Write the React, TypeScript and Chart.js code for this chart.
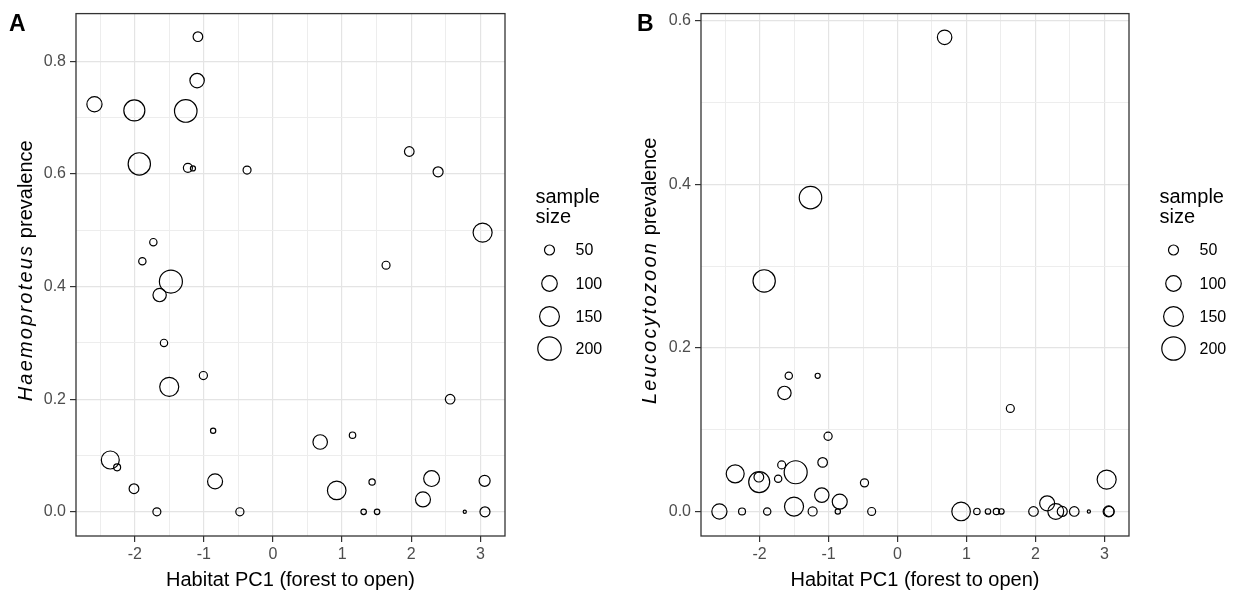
import React, { useEffect, useRef } from 'react';
import { Chart, registerables } from 'chart.js';
Chart.register(...registerables);

const FONT = '"Liberation Sans", Arial, Helvetica, sans-serif';

// Habitat PC1 score of each site
const siteX = [
  -1.086, -1.098, -2.583, -2.006, -1.262, -1.934, -1.231, -1.158, -0.375, 1.972,
  2.389, 3.033, -1.731, -1.890, 1.636, -1.477, -1.640, -1.577, -1.007, -1.501,
  2.563, -0.866, 1.151, 0.683, -2.354, -2.255, -2.011, -0.838, 0.922, 1.434,
  2.295, 2.170, 3.062, -1.680, -0.479, 1.312, 1.506, 2.775, 3.067,
];
// sample size of each site
const sampleSize = [
  47, 88, 96, 166, 187, 184, 43, 20, 36, 47,
  50, 140, 32, 32, 36, 194, 78, 32, 37, 140,
  47, 21, 27, 89, 127, 30, 48, 94, 134, 26,
  103, 94, 58, 36, 37, 22, 22, 12, 50,
];
// Haemoproteus prevalence (panel A)
const haemoproteusPrev = [
  0.844, 0.766, 0.724, 0.713, 0.712, 0.618, 0.611, 0.610, 0.607, 0.640,
  0.604, 0.496, 0.479, 0.445, 0.438, 0.409, 0.385, 0.300, 0.242, 0.222,
  0.200, 0.144, 0.136, 0.124, 0.092, 0.079, 0.041, 0.054, 0.038, 0.053,
  0.059, 0.022, 0.055, 0.0, 0.0, 0.0, 0.0, 0.0, 0.0,
];
// Leucocytozoon prevalence (panel B)
const leucocytozoonPrev = [
  0.060, 0.020, 0.0, 0.036, 0.384, 0.282, 0.0, 0.166, 0.0, 0.0,
  0.0, 0.039, 0.040, 0.0, 0.126, 0.048, 0.145, 0.166, 0.092, 0.006,
  0.0, 0.0, 0.0, 0.580, 0.046, 0.0, 0.042, 0.012, 0.0, 0.0,
  0.0, 0.010, 0.0, 0.057, 0.035, 0.0, 0.0, 0.0, 0.0,
];

const xTicks = [-2, -1, 0, 1, 2, 3];
const xMinorTicks = [-2.5, -1.5, -0.5, 0.5, 1.5, 2.5];
const yTicksA = [0, 0.2, 0.4, 0.6, 0.8];
const yMinorA = [0.1, 0.3, 0.5, 0.7];
const yTicksB = [0, 0.2, 0.4, 0.6];
const yMinorB = [0.1, 0.3, 0.5];
const legendSizes = [50, 100, 150, 200];
const legendLabels = ['50', '100', '150', '200'];
const legendKeyY = [250, 283.5, 316.5, 348.5];

const radius = (n: number) => Math.max(1.5, 0.948 * Math.sqrt(n) - 1.7);

const isIn = (v: number, arr: number[]) => arr.some((m) => Math.abs(m - v) < 1e-9);

const decorPlugin = {
  id: 'panelDecor',
  afterDraw(chart: any, _args: any, opts: any) {
    const { ctx, chartArea: a } = chart;
    ctx.save();
    // panel border
    ctx.strokeStyle = '#333333';
    ctx.lineWidth = 1.3;
    ctx.strokeRect(a.left, a.top, a.right - a.left, a.bottom - a.top);

    // panel tag
    ctx.fillStyle = '#000000';
    ctx.font = `bold 23px ${FONT}`;
    ctx.textAlign = 'left';
    ctx.textBaseline = 'alphabetic';
    ctx.fillText(opts.letter, opts.letterX, 31);

    // y axis title with italic genus name
    ctx.save();
    ctx.translate(31.5, (a.top + a.bottom) / 2 - 4);
    ctx.rotate(-Math.PI / 2);
    const itFont = `italic 20px ${FONT}`;
    const nFont = `20px ${FONT}`;
    ctx.font = itFont;
    (ctx as any).letterSpacing = '2.2px';
    const w1 = ctx.measureText(opts.yItalic).width;
    (ctx as any).letterSpacing = '0px';
    ctx.font = nFont;
    const w2 = ctx.measureText(opts.yRest).width;
    const x0 = -(w1 + w2) / 2;
    ctx.textBaseline = 'alphabetic';
    ctx.textAlign = 'left';
    ctx.fillStyle = '#000000';
    ctx.font = itFont;
    (ctx as any).letterSpacing = '2.2px';
    ctx.fillText(opts.yItalic, x0, 0);
    (ctx as any).letterSpacing = '0px';
    ctx.font = nFont;
    ctx.fillText(opts.yRest, x0 + w1, 0);
    ctx.restore();

    // size legend
    ctx.fillStyle = '#000000';
    ctx.font = `20px ${FONT}`;
    ctx.textAlign = 'left';
    ctx.textBaseline = 'alphabetic';
    ctx.fillText('sample', 535.5, 203);
    ctx.fillText('size', 535.5, 223);
    ctx.strokeStyle = '#000000';
    ctx.lineWidth = 1.2;
    ctx.font = `16px ${FONT}`;
    ctx.textBaseline = 'middle';
    legendSizes.forEach((s, i) => {
      ctx.beginPath();
      ctx.arc(549.5, legendKeyY[i], radius(s), 0, Math.PI * 2);
      ctx.stroke();
      ctx.fillText(legendLabels[i], 575.5, legendKeyY[i] + 1);
    });
    ctx.restore();
  },
};

function makeConfig(
  yValues: number[],
  yMin: number,
  yMax: number,
  yMajor: number[],
  yMinor: number[],
  leftWidth: number,
  rightPad: number,
  letter: string,
  letterX: number,
  yItalic: string,
  yRest: string,
) {
  const points = siteX.map((x, i) => ({ x, y: yValues[i], r: radius(sampleSize[i]) }));
  return {
    type: 'bubble',
    data: {
      datasets: [
        {
          data: points,
          borderColor: '#000000',
          backgroundColor: 'rgba(0,0,0,0)',
          borderWidth: 1.2,
          hoverBorderWidth: 1.2,
        },
      ],
    },
    options: {
      responsive: false,
      animation: false,
      events: [],
      layout: { padding: { left: 0, right: rightPad, top: 9, bottom: 0 } },
      plugins: {
        legend: { display: false },
        tooltip: { enabled: false },
        panelDecor: { letter, letterX, yItalic, yRest },
      },
      scales: {
        x: {
          type: 'linear',
          min: -2.85,
          max: 3.357,
          afterBuildTicks: (s: any) => {
            s.ticks = [...xTicks, ...xMinorTicks].sort((p, q) => p - q).map((v) => ({ value: v }));
          },
          afterFit: (s: any) => {
            s.height = 58;
          },
          ticks: {
            autoSkip: false,
            maxRotation: 0,
            padding: 3,
            color: '#4d4d4d',
            font: { family: FONT, size: 16 },
            callback: (v: number) => (isIn(v, xTicks) ? String(v) : ''),
          },
          grid: {
            color: (c: any) => (c.tick && isIn(c.tick.value, xTicks) ? '#e4e4e4' : '#ededed'),
            lineWidth: (c: any) => (c.tick && isIn(c.tick.value, xTicks) ? 1.2 : 1),
            tickLength: 6,
            tickColor: (c: any) => (c.tick && isIn(c.tick.value, xTicks) ? '#333333' : 'rgba(0,0,0,0)'),
            tickWidth: 1.2,
          },
          border: { display: false },
          title: {
            display: true,
            text: 'Habitat PC1 (forest to open)',
            color: '#000000',
            font: { family: FONT, size: 20 },
            padding: { top: 0, bottom: 2 },
          },
        },
        y: {
          type: 'linear',
          min: yMin,
          max: yMax,
          afterBuildTicks: (s: any) => {
            s.ticks = [...yMajor, ...yMinor].sort((p, q) => p - q).map((v) => ({ value: v }));
          },
          afterFit: (s: any) => {
            s.width = leftWidth;
          },
          ticks: {
            autoSkip: false,
            padding: 4,
            color: '#4d4d4d',
            font: { family: FONT, size: 16 },
            callback: (v: number) => (isIn(v, yMajor) ? v.toFixed(1) : ''),
          },
          grid: {
            color: (c: any) => (c.tick && isIn(c.tick.value, yMajor) ? '#e4e4e4' : '#ededed'),
            lineWidth: (c: any) => (c.tick && isIn(c.tick.value, yMajor) ? 1.2 : 1),
            tickLength: 6,
            tickColor: (c: any) => (c.tick && isIn(c.tick.value, yMajor) ? '#333333' : 'rgba(0,0,0,0)'),
            tickWidth: 1.2,
          },
          border: { display: false },
          title: { display: false },
        },
      },
    },
    plugins: [decorPlugin],
  } as any;
}

export default function App() {
  const refA = useRef<HTMLCanvasElement>(null);
  const refB = useRef<HTMLCanvasElement>(null);

  useEffect(() => {
    const chartA = new Chart(
      refA.current as HTMLCanvasElement,
      makeConfig(haemoproteusPrev, -0.043, 0.885, yTicksA, yMinorA, 76, 115, 'A', 9, 'Haemoproteus', ' prevalence'),
    );
    const chartB = new Chart(
      refB.current as HTMLCanvasElement,
      makeConfig(leucocytozoonPrev, -0.03, 0.609, yTicksB, yMinorB, 77, 111, 'B', 13, 'Leucocytozoon', ' prevalence'),
    );
    return () => {
      chartA.destroy();
      chartB.destroy();
    };
  }, []);

  return (
    <div
      style={{
        position: 'absolute',
        left: 0,
        top: 0,
        width: 1240,
        height: 594,
        overflow: 'hidden',
        background: '#ffffff',
      }}
    >
      <canvas ref={refA} width={620} height={594} style={{ position: 'absolute', left: 0, top: 0 }} />
      <canvas ref={refB} width={616} height={594} style={{ position: 'absolute', left: 624, top: 0 }} />
    </div>
  );
}
